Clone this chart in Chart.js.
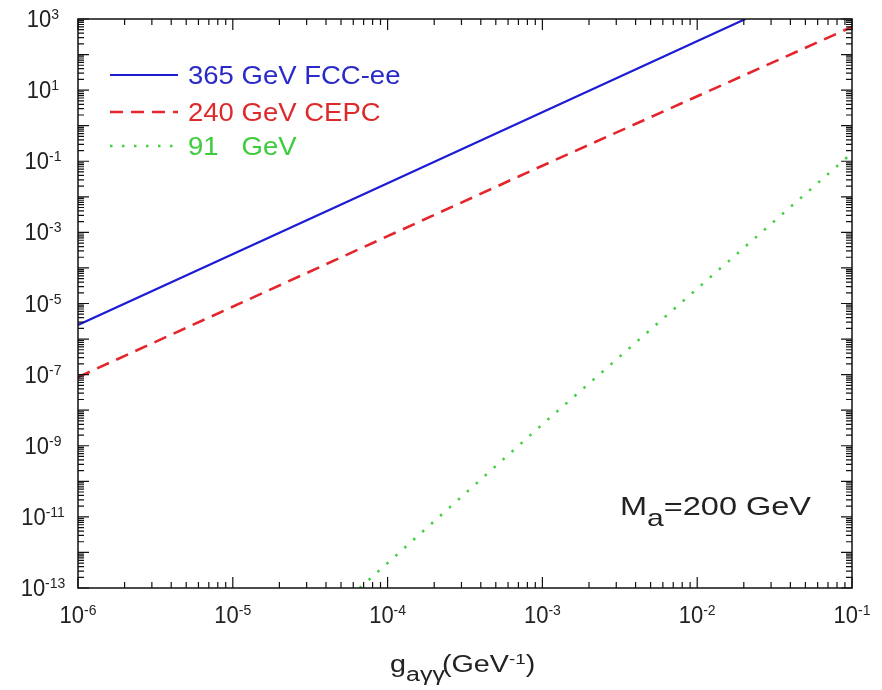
<!DOCTYPE html>
<html>
<head>
<meta charset="utf-8">
<script src="https://cdn.jsdelivr.net/npm/chart.js@4"></script>
<style>
  body { margin: 0; background: #fff; }
  #wrap { width: 882px; height: 690px; }
</style>
</head>
<body>
<div id="wrap"><canvas id="chart"></canvas></div>
<script>
// curves (g in GeV^-1, y value)
const seriesNames = ['365 GeV FCC-ee', '240 GeV CEPC', '91   GeV'];
const fccG = [1e-6, 1e-4, 0.0205];
const fccVal = [2.5e-6, 0.024, 1000];
const cepcG = [1e-6, 1e-3, 1e-1];
const cepcVal = [8.5e-8, 0.075, 600];
const zG = [6.6e-5, 1e-3, 1e-1];
const zVal = [1e-13, 4e-9, 0.17];

// tick labels (powers of ten)
const xTickExps = [-6, -5, -4, -3, -2, -1];
const yTickExps = [3, 1, -1, -3, -5, -7, -9, -11, -13];

const FONT = '"Liberation Sans", Arial, sans-serif';

function pts(xs, ys) {
    return xs.map((x, i) => ({ x: x, y: ys[i] }));
}

// text with a little horizontal / vertical stretch, like the scanned figure
function txt(ctx, s, x, y, size, color, sx, sy) {
    ctx.save();
    ctx.font = size + 'px ' + FONT;
    ctx.fillStyle = color;
    ctx.textAlign = 'left';
    ctx.textBaseline = 'alphabetic';
    ctx.translate(x, y);
    ctx.scale(sx || 1, sy || 1);
    ctx.fillText(s, 0, 0);
    ctx.restore();
}

function width(ctx, s, size, sx) {
    ctx.font = size + 'px ' + FONT;
    return ctx.measureText(s).width * (sx || 1);
}

function pow10(ctx, exp, cx, y) {
    const wb = width(ctx, '10', 22);
    const ws = width(ctx, String(exp), 14);
    const x0 = cx - (wb + ws) / 2;
    txt(ctx, '10', x0, y, 22, '#222', 1, 1.08);
    txt(ctx, String(exp), x0 + wb, y - 8, 14, '#222', 1, 1.08);
}

const frame = {
    id: 'frame',
    afterDraw(chart) {
        const ctx = chart.ctx;
        const a = chart.chartArea;
        const xs = chart.scales.x, ys = chart.scales.y;

        ctx.save();
        ctx.strokeStyle = '#111';
        ctx.lineWidth = 1.5;
        ctx.strokeRect(a.left, a.top, a.right - a.left, a.bottom - a.top);

        // inward ticks on all four sides
        ctx.lineWidth = 1.2;
        ctx.beginPath();
        for (let d = -6; d <= -1; d++) {
            for (let k = 1; k <= 9; k++) {
                const v = k * Math.pow(10, d);
                if (v > 0.1 * 1.0001) break;
                const px = xs.getPixelForValue(v);
                const len = k === 1 ? 11 : 6;
                ctx.moveTo(px, a.bottom); ctx.lineTo(px, a.bottom - len);
                ctx.moveTo(px, a.top); ctx.lineTo(px, a.top + len);
            }
        }
        for (let d = -13; d <= 3; d++) {
            for (let k = 1; k <= 9; k++) {
                const v = k * Math.pow(10, d);
                if (v > 1e3 * 1.0001) break;
                const py = ys.getPixelForValue(v);
                const len = k === 1 ? 11 : 6;
                ctx.moveTo(a.left, py); ctx.lineTo(a.left + len, py);
                ctx.moveTo(a.right, py); ctx.lineTo(a.right - len, py);
            }
        }
        ctx.stroke();
        ctx.restore();

        xTickExps.forEach(e => {
            pow10(ctx, e, xs.getPixelForValue(Math.pow(10, e)), 623);
        });
        yTickExps.forEach(e => {
            pow10(ctx, e, 43, ys.getPixelForValue(Math.pow(10, e)) + 8);
        });

        // axis title  g_{aγγ}(GeV^-1)
        let x = 390;
        const tx = 1.25;
        txt(ctx, 'g', x, 672, 23, '#222', tx); x += width(ctx, 'g', 23, tx);
        txt(ctx, 'aγγ', x, 681, 20, '#222', tx); x += width(ctx, 'aγγ', 20, tx) - 3;
        txt(ctx, '(GeV', x, 672, 23, '#222', tx); x += width(ctx, '(GeV', 23, tx);
        txt(ctx, '-1', x, 664, 15, '#222', tx); x += width(ctx, '-1', 15, tx);
        txt(ctx, ')', x, 672, 23, '#222', tx);

        // M_a = 200 GeV
        const mx = 1.25;
        x = 620;
        txt(ctx, 'M', x, 515, 26, '#222', mx); x += width(ctx, 'M', 26, mx);
        txt(ctx, 'a', x, 526, 24, '#222', mx); x += width(ctx, 'a', 24, mx);
        txt(ctx, '=200 GeV', x, 515, 26, '#222', mx);

        // legend
        const rows = [75, 112, 146];
        chart.data.datasets.forEach((ds, i) => {
            ctx.save();
            ctx.strokeStyle = ds.borderColor;
            ctx.lineWidth = ds.borderWidth;
            ctx.setLineDash(ds.borderDash || []);
            ctx.beginPath();
            ctx.moveTo(110, rows[i]);
            ctx.lineTo(178, rows[i]);
            ctx.stroke();
            ctx.restore();
            txt(ctx, seriesNames[i], 188, rows[i] + 9, 25, ds.legendColor, 1.1);
        });
    }
};

const config = {
    type: 'line',
    data: {
        datasets: [{
            label: seriesNames[0],
            data: pts(fccG, fccVal),
            borderColor: '#1c1cd6',
            legendColor: '#2a2ac8',
            borderWidth: 2.2
        }, {
            label: seriesNames[1],
            data: pts(cepcG, cepcVal),
            borderColor: '#e5252c',
            legendColor: '#dd2a2a',
            borderWidth: 2.6,
            borderDash: [13, 8]
        }, {
            label: seriesNames[2],
            data: pts(zG, zVal),
            borderColor: '#3fcf3f',
            legendColor: '#3ccc3c',
            borderWidth: 2.5,
            borderDash: [2.5, 9.5]
        }]
    },
    options: {
        responsive: true,
        maintainAspectRatio: false,
        animation: false,
        layout: { padding: { left: 78, top: 19, right: 30, bottom: 102 } },
        elements: { point: { radius: 0 }, line: { tension: 0 } },
        plugins: { legend: { display: false }, tooltip: { enabled: false } },
        scales: {
            x: { type: 'logarithmic', min: 1e-6, max: 1e-1, display: false },
            y: { type: 'logarithmic', min: 1e-13, max: 1e3, display: false }
        }
    },
    plugins: [frame]
};

const ctx = document.getElementById('chart').getContext('2d');
new Chart(ctx, config);
</script>
</body>
</html>
